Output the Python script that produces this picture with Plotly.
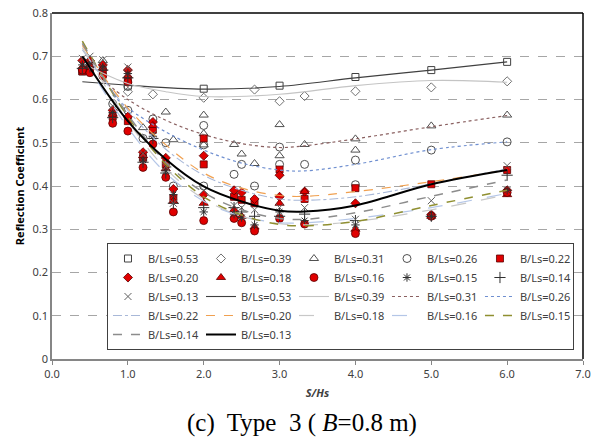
import plotly.graph_objects as go

# ---------------- data ----------------
labels = ["B/Ls=0.53", "B/Ls=0.39", "B/Ls=0.31", "B/Ls=0.26", "B/Ls=0.22",
          "B/Ls=0.20", "B/Ls=0.18", "B/Ls=0.16", "B/Ls=0.15", "B/Ls=0.14", "B/Ls=0.13"]

# measured points
x_053 = [0.4, 1.0, 2.0, 3.0, 4.0, 5.0, 6.0]
y_053 = [0.665, 0.632, 0.625, 0.632, 0.652, 0.668, 0.687]

x_039 = [0.5, 1.0, 1.33, 2.0, 2.67, 3.0, 3.33, 4.0, 5.0, 6.0]
y_039 = [0.680, 0.618, 0.612, 0.604, 0.623, 0.596, 0.608, 0.619, 0.628, 0.642]

x_031 = [0.67, 1.2, 1.5, 1.6, 2.0, 2.0, 2.0, 2.4, 2.5, 2.67, 3.0, 3.0, 3.33, 4.0, 4.0, 5.0, 6.0]
y_031 = [0.690, 0.535, 0.571, 0.507, 0.564, 0.521, 0.495, 0.496, 0.474, 0.452, 0.542, 0.470, 0.496, 0.509, 0.483, 0.539, 0.564]

x_026 = [0.8, 1.0, 1.0, 1.2, 1.33, 1.5, 1.6, 2.0, 2.0, 2.0, 2.4, 2.5, 2.67, 3.0, 3.0, 3.33, 4.0, 4.0, 5.0, 6.0]
y_026 = [0.590, 0.630, 0.575, 0.510, 0.555, 0.500, 0.400, 0.540, 0.495, 0.400, 0.427, 0.450, 0.400, 0.490, 0.450, 0.450, 0.460, 0.403, 0.483, 0.502]

x_022 = [0.4, 0.5, 0.67, 0.8, 1.0, 1.0, 1.2, 1.33, 1.5, 1.6, 2.0, 2.0, 2.4, 2.5, 2.67, 3.0, 3.33, 4.0, 5.0, 6.0]
y_022 = [0.665, 0.668, 0.665, 0.560, 0.645, 0.550, 0.465, 0.530, 0.450, 0.372, 0.510, 0.450, 0.375, 0.368, 0.360, 0.438, 0.370, 0.395, 0.404, 0.437]

x_020 = [0.4, 0.5, 0.67, 0.8, 1.0, 1.0, 1.2, 1.33, 1.5, 1.6, 2.0, 2.0, 2.4, 2.5, 2.67, 3.0, 3.0, 3.33, 4.0, 5.0, 6.0]
y_020 = [0.690, 0.690, 0.680, 0.575, 0.668, 0.560, 0.478, 0.548, 0.465, 0.393, 0.470, 0.380, 0.390, 0.385, 0.370, 0.425, 0.375, 0.387, 0.360, 0.334, 0.390]

x_018 = [0.4, 0.5, 0.67, 0.8, 1.0, 1.2, 1.33, 1.5, 1.6, 2.0, 2.4, 2.5, 2.67, 3.0, 3.33, 4.0, 5.0, 6.0]
y_018 = [0.675, 0.680, 0.672, 0.566, 0.655, 0.470, 0.540, 0.440, 0.365, 0.360, 0.345, 0.330, 0.305, 0.360, 0.387, 0.300, 0.330, 0.380]

x_016 = [0.4, 0.5, 0.67, 0.8, 1.0, 1.0, 1.2, 1.33, 1.5, 1.6, 2.0, 2.4, 2.5, 2.67, 3.0, 3.33, 4.0, 5.0, 6.0]
y_016 = [0.668, 0.662, 0.655, 0.545, 0.640, 0.527, 0.443, 0.497, 0.420, 0.340, 0.320, 0.325, 0.315, 0.296, 0.325, 0.312, 0.290, 0.330, 0.385]

x_015 = [0.4, 0.5, 0.67, 0.8, 1.0, 1.2, 1.33, 1.5, 1.6, 2.0, 2.4, 2.5, 2.67, 3.0, 3.33, 4.0, 5.0, 6.0]
y_015 = [0.680, 0.685, 0.675, 0.570, 0.660, 0.460, 0.515, 0.435, 0.380, 0.340, 0.335, 0.327, 0.310, 0.340, 0.320, 0.310, 0.330, 0.390]

x_014 = [0.4, 0.5, 0.67, 0.8, 1.0, 1.2, 1.33, 1.5, 1.6, 2.0, 2.4, 2.5, 2.67, 3.0, 3.33, 4.0, 5.0, 6.0]
y_014 = [0.672, 0.675, 0.668, 0.558, 0.650, 0.455, 0.510, 0.430, 0.360, 0.350, 0.350, 0.340, 0.330, 0.330, 0.335, 0.320, 0.330, 0.425]

x_013 = [0.4, 0.5, 0.67, 0.8, 1.0, 1.2, 1.33, 1.5, 1.6, 2.0, 2.4, 2.5, 2.67, 3.0, 3.33, 4.0, 5.0, 6.0]
y_013 = [0.695, 0.700, 0.692, 0.585, 0.675, 0.475, 0.520, 0.445, 0.360, 0.390, 0.355, 0.350, 0.345, 0.350, 0.350, 0.323, 0.366, 0.447]

# trend curves
tx_053 = [0.4, 1.0, 2.0, 3.0, 4.0, 5.0, 6.0]
ty_053 = [0.641, 0.633, 0.624, 0.630, 0.650, 0.668, 0.687]
tx_039 = [0.5, 1.0, 1.5, 2.0, 3.0, 4.0, 5.0, 6.0]
ty_039 = [0.675, 0.637, 0.618, 0.607, 0.612, 0.632, 0.644, 0.640]
tx_031 = [0.67, 1.0, 1.5, 2.0, 2.5, 3.0, 3.33, 4.0, 5.0, 6.0]
ty_031 = [0.645, 0.600, 0.552, 0.519, 0.498, 0.489, 0.493, 0.509, 0.537, 0.563]
tx_026 = [0.8, 1.0, 1.5, 2.0, 2.5, 3.0, 3.33, 4.0, 5.0, 6.0]
ty_026 = [0.610, 0.580, 0.525, 0.483, 0.453, 0.437, 0.435, 0.450, 0.484, 0.502]
tx_low = [0.4, 1.0, 1.5, 2.0, 2.5, 3.0, 3.33, 4.0, 5.0, 6.0]
ty_022 = [0.715, 0.575, 0.485, 0.425, 0.390, 0.370, 0.367, 0.375, 0.405, 0.440]
ty_020 = [0.725, 0.580, 0.495, 0.430, 0.395, 0.378, 0.376, 0.387, 0.410, 0.437]
ty_018 = [0.720, 0.550, 0.440, 0.370, 0.330, 0.313, 0.310, 0.318, 0.345, 0.380]
ty_016 = [0.700, 0.535, 0.430, 0.365, 0.330, 0.315, 0.315, 0.325, 0.350, 0.383]
ty_015 = [0.735, 0.560, 0.450, 0.375, 0.333, 0.311, 0.308, 0.318, 0.355, 0.390]
ty_014 = [0.730, 0.565, 0.455, 0.385, 0.345, 0.325, 0.323, 0.338, 0.376, 0.414]
ty_013 = [0.700, 0.550, 0.462, 0.399, 0.364, 0.343, 0.341, 0.355, 0.404, 0.437]

x_ticks = [0, 1, 2, 3, 4, 5, 6, 7]
y_ticks = [0, 0.1, 0.2, 0.3, 0.4, 0.5, 0.6, 0.7, 0.8]

# ---------------- figure ----------------
RED = "#e00000"
REDLINE = "#5a0000"
fig = go.Figure()

point_sets = [
    (x_053, y_053, dict(symbol="square-open", size=7, color="#404040", line=dict(width=1))),
    (x_039, y_039, dict(symbol="diamond-open", size=7, color="#707070", line=dict(width=1))),
    (x_031, y_031, dict(symbol="triangle-up-open", size=8, color="#505050", line=dict(width=1))),
    (x_026, y_026, dict(symbol="circle-open", size=8, color="#505050", line=dict(width=1))),
    (x_022, y_022, dict(symbol="square", size=7, color=RED, line=dict(width=0.8, color=REDLINE))),
    (x_020, y_020, dict(symbol="diamond", size=7, color=RED, line=dict(width=0.8, color=REDLINE))),
    (x_018, y_018, dict(symbol="triangle-up", size=8, color=RED, line=dict(width=0.8, color=REDLINE))),
    (x_016, y_016, dict(symbol="circle", size=8, color=RED, line=dict(width=0.8, color=REDLINE))),
    (x_015, y_015, dict(symbol="asterisk-open", size=7, color="#303030", line=dict(width=1, color="#303030"))),
    (x_014, y_014, dict(symbol="cross-thin-open", size=8, color="#303030", line=dict(width=1, color="#303030"))),
    (x_013, y_013, dict(symbol="x-thin-open", size=7, color="#606060", line=dict(width=1, color="#606060"))),
]
for (xs, ys, mk), name in zip(point_sets, labels):
    fig.add_trace(go.Scatter(x=xs, y=ys, mode="markers", name=name, marker=mk))

line_sets = [
    (tx_053, ty_053, dict(color="#404040", width=1.1, dash="solid")),
    (tx_039, ty_039, dict(color="#c4c4c4", width=1.1, dash="solid")),
    (tx_031, ty_031, dict(color="#8a6060", width=1.2, dash="dot")),
    (tx_026, ty_026, dict(color="#6f8fd0", width=1.2, dash="dot")),
    (tx_low, ty_022, dict(color="#a8b8d8", width=1.1, dash="dashdot")),
    (tx_low, ty_020, dict(color="#f0a050", width=1.2, dash="dash")),
    (tx_low, ty_018, dict(color="#c8c8c8", width=1.2, dash="longdash")),
    (tx_low, ty_016, dict(color="#b4c6e7", width=1.2, dash="longdash")),
    (tx_low, ty_015, dict(color="#8f8f30", width=1.5, dash="dash")),
    (tx_low, ty_014, dict(color="#8c8c8c", width=1.5, dash="dash")),
    (tx_low, ty_013, dict(color="#000000", width=2, dash="solid")),
]
for (xs, ys, ln), name in zip(line_sets, labels):
    fig.add_trace(go.Scatter(x=xs, y=ys, mode="lines", name=name,
                             line=dict(shape="spline", smoothing=1.0, **ln)))

FONT = "Noto Sans"
fig.update_layout(
    width=596, height=442,
    margin=dict(l=52, r=5, t=10, b=83),
    paper_bgcolor="white", plot_bgcolor="white",
    font=dict(family=FONT, size=11, color="#404040"),
    showlegend=True,
    legend=dict(
        orientation="h", x=0.983, y=0.026, xanchor="right", yanchor="bottom",
        bgcolor="white", bordercolor="#404040", borderwidth=1,
        font=dict(family=FONT, size=11, color="#404040"),
        entrywidth=48, tracegroupgap=0,
    ),
    xaxis=dict(
        range=[0, 7], tickvals=x_ticks, tickformat=".1f",
        ticklabeloverflow="allow",
        showgrid=False, zeroline=False,
        showline=True, linecolor="#868686", linewidth=1.5,
        ticks="outside", ticklen=4, tickcolor="#868686",
        title=dict(text="<b><i>S/Hs</i></b>", font=dict(family=FONT, size=11, color="#404040"), standoff=9),
    ),
    yaxis=dict(
        range=[0, 0.8], tickvals=y_ticks,
        showgrid=True, gridcolor="#a6a6a6", griddash="dash", gridwidth=1,
        zeroline=False,
        showline=True, linecolor="#868686", linewidth=1.5,
        ticks="",
        title=dict(text="<b>Reflection Coefficient</b>", font=dict(family=FONT, size=11, color="#000000"), standoff=6),
    ),
    shapes=[
        dict(type="line", xref="paper", yref="paper", x0=0, x1=1, y0=1, y1=1,
             line=dict(color="#000000", width=1.5)),
        dict(type="line", xref="paper", yref="paper", x0=1, x1=1, y0=0, y1=1,
             line=dict(color="#000000", width=1.5)),
    ],
    annotations=[
        dict(text="(c)  Type  3 ( <i>B</i>=0.8 m)", xref="paper", yref="paper",
             x=0.471, y=-0.186, xanchor="center", yanchor="middle", showarrow=False,
             font=dict(family="Liberation Serif", size=25, color="#000000")),
    ],
)

fig.write_html("out.html", config={"displayModeBar": False},
               post_script="document.body.style.margin='0px';")
